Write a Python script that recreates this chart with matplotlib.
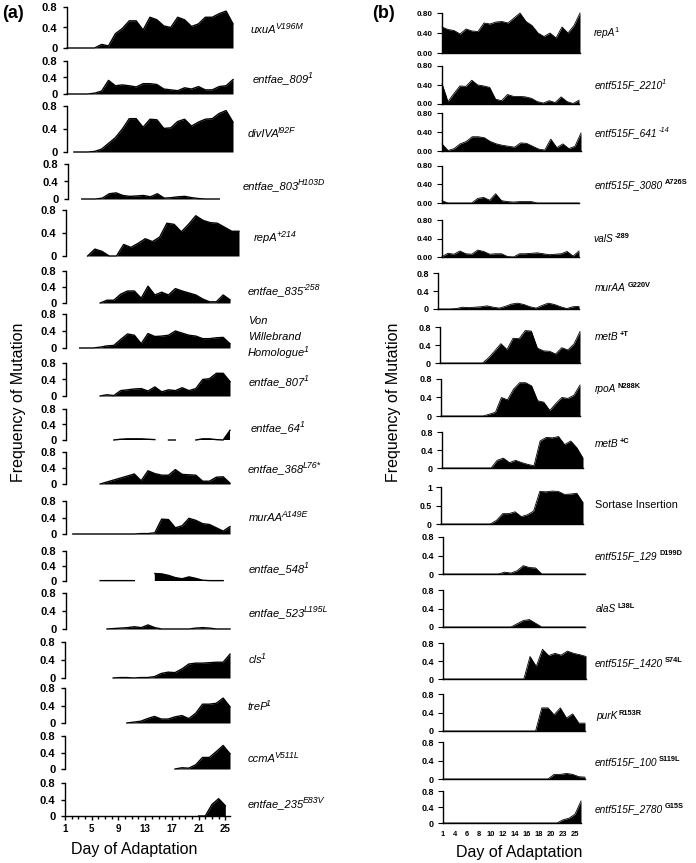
import numpy as np
import matplotlib
matplotlib.use('Agg')
import matplotlib.pyplot as plt

W, H = 696, 863
plt.rcParams['font.family'] = ['Liberation Sans', 'DejaVu Sans']

nan = np.nan

# ---------------- panel (a) data ----------------
days_a = list(range(1, 26))
a_names = ['uxuA', 'entfae_809', 'divIVA', 'entfae_803', 'repA', 'entfae_835',
           'Von\nWillebrand\nHomologue', 'entfae_807', 'entfae_64', 'entfae_368', 'murAA',
           'entfae_548', 'entfae_523', 'cls', 'treP', 'ccmA', 'entfae_235']
a_sups = ['V196M', '1', 'I92F', 'H103D', '+214', '-258', '1', '1', '1', 'L76*', 'A149E',
          '1', 'L195L', '1', '1', 'V511L', 'E83V']

uxuA = [0, 0, 0, 0, 0, 0.07, 0.04, 0.28, 0.38, 0.53, 0.53, 0.35, 0.6, 0.55, 0.43, 0.4, 0.6, 0.55, 0.42, 0.47, 0.6, 0.6, 0.67, 0.72, 0.47]
entfae_809 = [0, 0, 0, 0, 0.02, 0.07, 0.33, 0.2, 0.22, 0.2, 0.17, 0.25, 0.25, 0.23, 0.12, 0.1, 0.08, 0.15, 0.12, 0.18, 0.1, 0.1, 0.18, 0.2, 0.35]
divIVA = [nan, 0, 0, 0, 0.01, 0.05, 0.15, 0.25, 0.4, 0.58, 0.58, 0.43, 0.57, 0.56, 0.41, 0.42, 0.53, 0.57, 0.45, 0.52, 0.57, 0.58, 0.67, 0.72, 0.52]
entfae_803 = [nan, nan, 0, 0, 0, 0.02, 0.12, 0.14, 0.08, 0.06, 0.07, 0.08, 0.05, 0.12, 0.02, 0.03, 0.05, 0.06, 0.03, 0.01, 0, 0, 0, nan, nan]
repA_214 = [nan, nan, nan, 0, 0.12, 0.08, 0, 0, 0.2, 0.15, 0.22, 0.3, 0.25, 0.33, 0.57, 0.55, 0.42, 0.55, 0.7, 0.62, 0.58, 0.57, 0.5, 0.43, 0.43]
entfae_835 = [nan, nan, nan, nan, nan, 0, 0.07, 0.07, 0.22, 0.3, 0.3, 0.12, 0.42, 0.2, 0.27, 0.2, 0.36, 0.3, 0.25, 0.2, 0.1, 0.03, 0.03, 0.2, 0.08]
vwh = [nan, nan, 0, 0, 0, 0.02, 0.05, 0.06, 0.2, 0.33, 0.3, 0.1, 0.34, 0.27, 0.28, 0.3, 0.4, 0.35, 0.3, 0.28, 0.22, 0.22, 0.24, 0.25, 0.1]
entfae_807 = [nan, nan, nan, nan, nan, 0, 0.03, 0.01, 0.13, 0.15, 0.17, 0.18, 0.12, 0.22, 0.1, 0.15, 0.13, 0.2, 0.13, 0.18, 0.4, 0.42, 0.55, 0.55, 0.35]
entfae_64 = [nan, nan, nan, nan, nan, nan, nan, 0, 0.02, 0.03, 0.03, 0.03, 0.02, 0.01, nan, 0, 0, nan, nan, 0, 0.03, 0.03, 0.01, 0, 0.25]
entfae_368 = [nan, nan, nan, nan, nan, 0, 0.05, 0.1, 0.15, 0.2, 0.25, 0.08, 0.33, 0.26, 0.22, 0.22, 0.36, 0.24, 0.23, 0.22, 0.07, 0.07, 0.17, 0.18, 0.02]
murAA_A149E = [nan, 0, 0, 0, 0, 0, 0, 0, 0, 0, 0, 0.01, 0.01, 0.03, 0.36, 0.35, 0.15, 0.2, 0.38, 0.33, 0.25, 0.23, 0.15, 0.07, 0.18]
entfae_548 = [nan, nan, nan, nan, nan, 0.01, 0.01, 0.01, 0.01, 0.01, 0.01, nan, nan, 0.2, 0.19, 0.15, 0.09, 0.06, 0.11, 0.07, 0.02, 0.01, 0.01, 0.01, nan]
entfae_523 = [nan, nan, nan, nan, nan, nan, 0, 0.01, 0.02, 0.03, 0.05, 0.03, 0.09, 0.03, 0, 0, 0, 0, 0, 0.02, 0.03, 0.02, 0, 0, 0]
cls = [nan, nan, nan, nan, nan, nan, nan, 0, 0.01, 0.01, 0, 0.01, 0.01, 0.03, 0.1, 0.13, 0.12, 0.2, 0.31, 0.33, 0.33, 0.34, 0.35, 0.35, 0.53]
treP = [nan, nan, nan, nan, nan, nan, nan, nan, nan, 0, 0.02, 0.04, 0.1, 0.15, 0.09, 0.09, 0.14, 0.17, 0.1, 0.22, 0.43, 0.43, 0.45, 0.57, 0.37]
ccmA = [nan] * 16 + [0, 0.03, 0.02, 0.1, 0.28, 0.28, 0.42, 0.57, 0.37]
entfae_235 = [nan] * 20 + [0, 0, 0.28, 0.42, 0.25]

a_series = [uxuA, entfae_809, divIVA, entfae_803, repA_214, entfae_835, vwh, entfae_807,
            entfae_64, entfae_368, murAA_A149E, entfae_548, entfae_523, cls, treP, ccmA, entfae_235]

# ---------------- panel (b) data ----------------
days_b = [1, 2, 4, 5, 6, 7, 8, 9, 10, 11, 12, 13, 14, 15, 16, 17, 18, 19, 20, 22, 23, 24, 25, 26]
b_names = ['repA', 'entf515F_2210', 'entf515F_641', 'entf515F_3080', 'valS', 'murAA', 'metB',
           'rpoA', 'metB', 'Sortase Insertion', 'entf515F_129', 'alaS', 'entf515F_1420', 'purK',
           'entf515F_100', 'entf515F_2780']
b_sups = ['1', '1', '-14', 'A726S', '-289', 'G220V', '+T', 'N288K', '+C', '', 'D199D', 'L38L',
          'S74L', 'R153R', 'S119L', 'G15S']

repA_1 = [0.52, 0.47, 0.45, 0.38, 0.48, 0.44, 0.43, 0.6, 0.58, 0.62, 0.63, 0.6, 0.7, 0.8, 0.63, 0.55, 0.4, 0.33, 0.4, 0.3, 0.52, 0.4, 0.55, 0.8]
e2210 = [0.43, 0.05, 0.22, 0.38, 0.37, 0.5, 0.4, 0.38, 0.35, 0.1, 0.07, 0.2, 0.16, 0.16, 0.15, 0.12, 0.05, 0.02, 0.07, 0.03, 0.15, 0.05, 0.01, 0.08]
e641 = [0.15, 0.01, 0.05, 0.15, 0.2, 0.3, 0.3, 0.28, 0.2, 0.15, 0.12, 0.1, 0.08, 0.17, 0.16, 0.1, 0.04, 0.02, 0.25, 0.07, 0.15, 0.05, 0.1, 0.38]
e3080 = [0.05, 0, 0, 0, 0, 0, 0.1, 0.12, 0.06, 0.2, 0.05, 0.03, 0.02, 0.03, 0.03, 0.03, 0, 0, 0, 0, 0, 0, 0, 0]
valS = [0.01, 0.08, 0.06, 0.13, 0.07, 0.06, 0.15, 0.12, 0.06, 0.07, 0.07, 0.01, 0.0, 0.07, 0.07, 0.08, 0.09, 0.07, 0.05, 0.06, 0.07, 0.12, 0.02, 0.13]
murAA_G220V = [0, 0, 0, 0.01, 0.04, 0.03, 0.04, 0.05, 0.07, 0.04, 0.02, 0.06, 0.11, 0.13, 0.1, 0.05, 0.02, 0.08, 0.13, 0.1, 0.05, 0.01, 0.05, 0.06]
metB_T = [0] * 7 + [0, 0.12, 0.27, 0.43, 0.3, 0.55, 0.54, 0.72, 0.71, 0.33, 0.27, 0.26, 0.2, 0.34, 0.29, 0.42, 0.7]
rpoA = [0] * 7 + [0, 0.04, 0.08, 0.4, 0.35, 0.58, 0.72, 0.72, 0.65, 0.33, 0.3, 0.12, 0.27, 0.4, 0.38, 0.45, 0.67]
metB_C = [0] * 8 + [0, 0.17, 0.22, 0.12, 0.17, 0.12, 0.08, 0.05, 0.6, 0.68, 0.67, 0.7, 0.52, 0.6, 0.45, 0.22]
sortase = [0] * 8 + [0, 0.1, 0.28, 0.28, 0.33, 0.2, 0.25, 0.35, 0.88, 0.87, 0.89, 0.88, 0.8, 0.81, 0.83, 0.58]
e129 = [0] * 9 + [0, 0.04, 0.02, 0.07, 0.18, 0.14, 0.13, 0] + [0] * 7
alaS = [0] * 11 + [0, 0.07, 0.14, 0.16, 0.08, 0] + [0] * 7
e1420 = [0] * 13 + [0, 0.5, 0.28, 0.66, 0.52, 0.57, 0.53, 0.62, 0.57, 0.54, 0.5]
purK = [0] * 15 + [0, 0.5, 0.5, 0.35, 0.5, 0.28, 0.37, 0.17, 0.17]
e100 = [0] * 17 + [0, 0.1, 0.1, 0.12, 0.1, 0.05, 0.04]
e2780 = [0] * 19 + [0, 0.08, 0.12, 0.22, 0.55]

b_series = [repA_1, e2210, e641, e3080, valS, murAA_G220V, metB_T, rpoA, metB_C, sortase,
            e129, alaS, e1420, purK, e100, e2780]

# ---------------- layout (pixels: left, right, top, bottom) ----------------
a_boxes = [(67, 233, 7, 48), (67, 233, 61, 94), (67, 233, 106, 152), (68, 233, 164, 199),
           (66, 239, 210, 256), (66, 230, 271, 303), (66, 230, 314, 348), (66, 230, 363, 396),
           (66, 230, 409, 440), (66, 230, 452, 484), (66, 230, 501, 534), (66, 230, 551, 581),
           (66, 230, 593, 629), (65, 230, 642, 678), (65, 230, 688, 723), (65, 230, 736, 769),
           (65, 230, 783, 816)]
a_label_pos = [(251, 29), (253, 78), (248, 133), (243, 185), (254, 237), (248, 290), (248, 336),
               (249, 381), (251, 427), (248, 468), (249, 517), (249, 568), (249, 612), (249, 659),
               (247, 706), (248, 758), (248, 803)]
b_boxes = [(442, 580, 13, 53), (442, 579, 66, 104), (442, 581, 113, 151), (442, 579, 166, 203),
           (442, 579, 220, 257), (438, 579, 273, 309), (440, 580, 327, 363), (441, 580, 379, 416),
           (442, 583, 432, 468), (441, 583, 487, 524), (443, 585, 537, 574), (443, 585, 590, 627),
           (443, 586, 643, 679), (443, 585, 694, 731), (443, 585, 742, 779), (443, 581, 791, 823)]
b_label_pos = [(594, 32), (595, 84), (595, 132), (595, 184), (593, 238), (595, 287), (595, 336),
               (595, 388), (595, 443), (595, 504), (595, 555), (596, 608), (595, 662), (596, 715),
               (595, 761), (595, 808)]

fig = plt.figure(figsize=(W / 100, H / 100), dpi=100)
renderer = fig.canvas.get_renderer()


def add_ax(box):
    L, R, T, B = box
    return fig.add_axes([L / W, 1 - B / H, (R - L) / W, (B - T) / H])


def fx(x):
    return x / W


def fy(y):
    return 1 - y / H


def draw_label(x_px, y_px, base, sup, size, supsize, style, supstyle, supweight, gap):
    lines = base.split('\n')
    fpx = size * 100 / 72
    lh = 1.4 * fpx
    y0 = y_px - (len(lines) - 1) * lh / 2
    t = None
    yb = y_px
    for k, line in enumerate(lines):
        yc = y0 + k * lh
        yb = yc + 0.36 * fpx
        t = fig.text(fx(x_px), fy(yb), line, fontsize=size, style=style,
                     ha='left', va='baseline')
    if sup:
        bb = t.get_window_extent(renderer)
        fig.text((bb.x1 + gap) / W, fy(yb - 0.36 * fpx), sup, fontsize=supsize,
                 style=supstyle, fontweight=supweight, ha='left', va='baseline')


# ---------- (a) ----------
n_a = len(a_series)
for i, (vals, box) in enumerate(zip(a_series, a_boxes)):
    ax = add_ax(box)
    v = np.array(vals, dtype=float)
    x = np.array(days_a, dtype=float)
    ax.fill_between(x, v, 0, color='black', lw=0)
    ax.plot(x, v, color='black', lw=1.0, clip_on=False)
    last = (i == n_a - 1)
    ax.set_xlim(1, 25.7 if last else 25)
    ax.set_ylim(0, 0.8)
    ax.set_yticks([0, 0.4, 0.8])
    ax.set_yticklabels(['0', '0.4', '0.8'])
    for s in ['top', 'right']:
        ax.spines[s].set_visible(False)
    ax.spines['left'].set_linewidth(1.0)
    ax.tick_params(axis='y', length=3, width=1, pad=4, labelsize=8)
    for t in ax.get_yticklabels():
        t.set_fontweight('bold')
    if last:
        ax.spines['bottom'].set_linewidth(1.0)
        ax.set_xticks([1, 5, 9, 13, 17, 21, 25])
        ax.set_xticks(days_a, minor=True)
        ax.tick_params(axis='x', which='major', length=3, width=1, pad=3, labelsize=7)
        ax.tick_params(axis='x', which='minor', length=2.5, width=1)
        for t in ax.get_xticklabels():
            t.set_fontweight('bold')
    else:
        ax.spines['bottom'].set_visible(False)
        ax.set_xticks([])
    ax.patch.set_alpha(0)
    lx, ly = a_label_pos[i]
    draw_label(lx, ly, a_names[i], a_sups[i], 8, 6.3, 'italic', 'italic', 'normal', -1.5)

# ---------- (b) ----------
n_b = len(b_series)
xb = np.arange(len(days_b))
for i, (vals, box) in enumerate(zip(b_series, b_boxes)):
    ax = add_ax(box)
    v = np.array(vals, dtype=float)
    ax.fill_between(xb, v, 0, color='black', lw=0)
    ax.plot(xb, v, color='black', lw=0.6, clip_on=False)
    ax.set_xlim(0, len(days_b) - 1)
    if i == 9:
        ax.set_ylim(0, 1)
        ax.set_yticks([0, 0.5, 1])
        ax.set_yticklabels(['0', '0.5', '1'])
        lsize = 6.3
    elif i < 5:
        ax.set_ylim(0, 0.8)
        ax.set_yticks([0, 0.4, 0.8])
        ax.set_yticklabels(['0.00', '0.40', '0.80'])
        lsize = 5.9
    else:
        ax.set_ylim(0, 0.8)
        ax.set_yticks([0, 0.4, 0.8])
        ax.set_yticklabels(['0', '0.4', '0.8'])
        lsize = 6.5
    for s in ['top', 'right']:
        ax.spines[s].set_visible(False)
    ax.spines['left'].set_linewidth(1.0)
    ax.spines['bottom'].set_linewidth(1.0)
    ax.tick_params(axis='y', length=3.5, width=0.8, pad=3, labelsize=lsize)
    for t in ax.get_yticklabels():
        t.set_fontweight('bold')
    if i == n_b - 1:
        ax.set_xticks(xb[::2])
        ax.set_xticklabels([str(d) for d in days_b[::2]])
        ax.tick_params(axis='x', length=0, pad=6, labelsize=5.4)
        for t in ax.get_xticklabels():
            t.set_fontweight('bold')
    else:
        ax.set_xticks([])
    ax.patch.set_alpha(0)
    lx, ly = b_label_pos[i]
    if i == 9:
        draw_label(lx, ly, b_names[i], '', 7.8, 5.3, 'normal', 'normal', 'normal', 0)
    elif i < 2:
        draw_label(lx, ly, b_names[i], b_sups[i], 7.3, 5.3, 'italic', 'italic' if i == 1 else 'normal', 'normal', -1.2)
    elif i == 2:
        draw_label(lx, ly, b_names[i], b_sups[i], 7.3, 5.3, 'italic', 'italic', 'normal', 1.5)
    else:
        draw_label(lx, ly, b_names[i], b_sups[i], 7.3, 5.3, 'italic', 'normal', 'bold', 1.5)

# ---------- titles / axis labels ----------
fig.text(fx(2), fy(14), '(a)', fontsize=13, fontweight='bold', ha='left', va='center')
fig.text(fx(372), fy(14), '(b)', fontsize=13, fontweight='bold', ha='left', va='center')
fig.text(fx(19), fy(402), 'Frequency of Mutation', fontsize=11.5, rotation=90, ha='center', va='center')
fig.text(fx(393), fy(402), 'Frequency of Mutation', fontsize=11.5, rotation=90, ha='center', va='center')
fig.text(fx(134), fy(849), 'Day of Adaptation', fontsize=11.5, ha='center', va='center')
fig.text(fx(519), fy(852), 'Day of Adaptation', fontsize=11.5, ha='center', va='center')

fig.savefig('out.png', dpi=100)
